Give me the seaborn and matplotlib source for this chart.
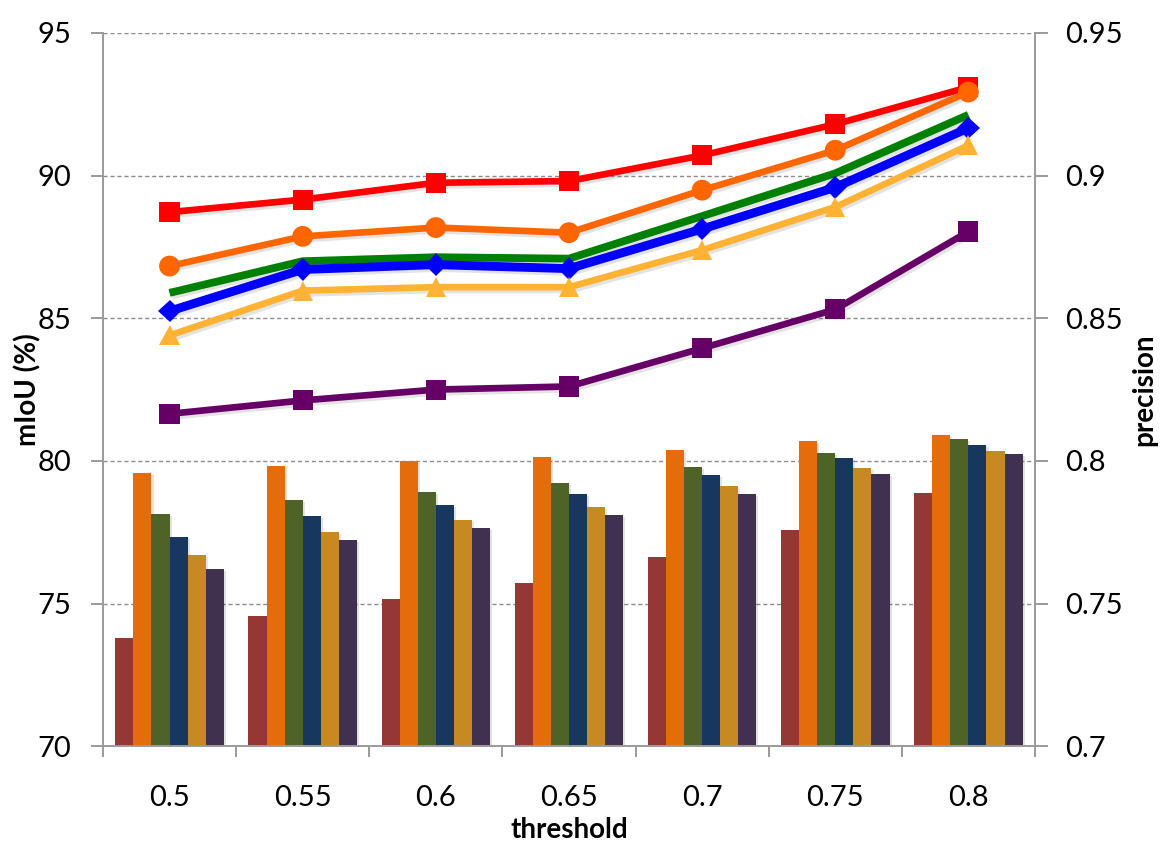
import numpy as np
import pandas as pd
import matplotlib
matplotlib.use("Agg")
import matplotlib.pyplot as plt
import matplotlib.patheffects as pe
from matplotlib import ticker
import seaborn as sns

# ---- data ----
thresholds = ["0.5", "0.55", "0.6", "0.65", "0.7", "0.75", "0.8"]

# bars (left axis, mIoU %)
bar_series = ["b1", "b2", "b3", "b4", "b5", "b6"]
bar_b1 = [73.79, 74.56, 75.15, 75.71, 76.64, 77.58, 78.88]
bar_b2 = [79.58, 79.81, 80.00, 80.13, 80.37, 80.69, 80.90]
bar_b3 = [78.13, 78.62, 78.90, 79.23, 79.78, 80.27, 80.76]
bar_b4 = [77.32, 78.06, 78.45, 78.84, 79.50, 80.09, 80.55]
bar_b5 = [76.69, 77.50, 77.92, 78.37, 79.11, 79.74, 80.34]
bar_b6 = [76.20, 77.23, 77.64, 78.10, 78.83, 79.53, 80.25]
bar_colors = ["#953735", "#E46C0A", "#4F6228", "#17375E", "#C78A22", "#403151"]

# lines (right axis, precision)
line_red = [0.8872, 0.8916, 0.8975, 0.8981, 0.9071, 0.9180, 0.9310]
line_orange = [0.8683, 0.8787, 0.8818, 0.8800, 0.8949, 0.9089, 0.9293]
line_green = [0.8589, 0.8700, 0.8714, 0.8709, 0.8858, 0.9008, 0.9213]
line_blue = [0.8525, 0.8671, 0.8688, 0.8674, 0.8813, 0.8959, 0.9167]
line_yellow = [0.8440, 0.8597, 0.8609, 0.8609, 0.8739, 0.8890, 0.9106]
line_purple = [0.8165, 0.8212, 0.8250, 0.8261, 0.8395, 0.8531, 0.8804]

sns.set_theme(style="white")
plt.rcParams["font.family"] = ["Lato", "DejaVu Sans"]

fig = plt.figure(figsize=(11.7, 8.46), dpi=100)
ax = fig.add_axes([0.088, 0.118, 0.7966, 0.843])

# --- bars ---
bars_df = pd.DataFrame({
    "threshold": thresholds * len(bar_series),
    "series": np.repeat(bar_series, len(thresholds)),
    "value": bar_b1 + bar_b2 + bar_b3 + bar_b4 + bar_b5 + bar_b6,
})
sns.barplot(data=bars_df, x="threshold", y="value", hue="series",
            hue_order=bar_series, order=thresholds, palette=bar_colors,
            saturation=1, width=0.815, gap=0, linewidth=0, legend=False, ax=ax,
            err_kws={"linewidth": 0})
for patch in ax.patches:
    patch.set_path_effects([pe.SimplePatchShadow(offset=(1.5, -1.5), alpha=0.12), pe.Normal()])

ax.set_ylim(70, 95)
ax.set_xlim(-0.5, len(thresholds) - 0.5)
ax.set_yticks([70, 75, 80, 85, 90, 95])
ax.grid(axis="y", color="#8c8c8c", linestyle=(0, (3, 2)), linewidth=1.0)
ax.set_axisbelow(True)

# --- lines on secondary axis ---
ax2 = ax.twinx()
ax2.set_ylim(0.7, 0.95)
ax2.set_yticks([0.7, 0.75, 0.8, 0.85, 0.9, 0.95])
ax2.yaxis.set_major_formatter(ticker.FormatStrFormatter("%g"))

xpos = np.arange(len(thresholds))
shadow = [pe.SimpleLineShadow(offset=(1.5, -2), shadow_color="#777777", alpha=0.2), pe.Normal()]
lines = [
    (line_red, "#FF0000", "s", 14.5, 4.8),
    (line_orange, "#FF6600", "o", 15, 4.8),
    (line_green, "#008000", None, 0, 5.6),
    (line_blue, "#0000FF", "D", 11.5, 6.4),
    (line_yellow, "#FFB233", "^", 14.5, 4.8),
    (line_purple, "#660066", "s", 14.5, 4.8),
]
for vals, col, mk, ms, lw in lines:
    sns.lineplot(x=xpos, y=vals, color=col, marker=mk, markersize=ms,
                 markeredgewidth=0, linewidth=lw, solid_capstyle="butt",
                 solid_joinstyle="round", ax=ax2, path_effects=shadow)

# --- axes styling ---
spine_col = "#9a9a9a"
for a in (ax, ax2):
    a.spines["top"].set_visible(False)
ax.spines["right"].set_visible(False)
ax2.spines["left"].set_visible(False)
ax2.spines["bottom"].set_visible(False)
for s in ("left", "bottom"):
    ax.spines[s].set_color(spine_col)
    ax.spines[s].set_linewidth(1.4)
ax2.spines["right"].set_color(spine_col)
ax2.spines["right"].set_linewidth(1.4)

ax.set_xticks(xpos)
ax.set_xticklabels(thresholds)
ax.set_xticks(np.arange(len(thresholds) + 1) - 0.5, minor=True)
ax.tick_params(axis="x", which="major", length=0, pad=28, labelsize=21, colors="black")
ax.tick_params(axis="x", which="minor", length=8, width=1.4, color=spine_col, direction="out", bottom=True)
ax.tick_params(axis="y", left=True, length=9, width=1.4, color=spine_col, direction="out", pad=14,
               labelsize=21, labelcolor="black")
ax2.tick_params(axis="y", right=True, length=9, width=1.4, color=spine_col, direction="out", pad=13,
                labelsize=21, labelcolor="black")

ax.set_xlabel("threshold", fontsize=20, fontweight="bold", color="black")
ax.set_ylabel("mIoU (%)", fontsize=20, fontweight="bold", color="black")
ax2.set_ylabel("precision", fontsize=20, fontweight="bold", color="black")
ax.xaxis.set_label_coords(0.5, -0.099)
ax.yaxis.set_label_coords(-0.066, 0.5)
ax2.yaxis.set_label_coords(1.103, 0.5)

fig.savefig("out.png", dpi=100)
